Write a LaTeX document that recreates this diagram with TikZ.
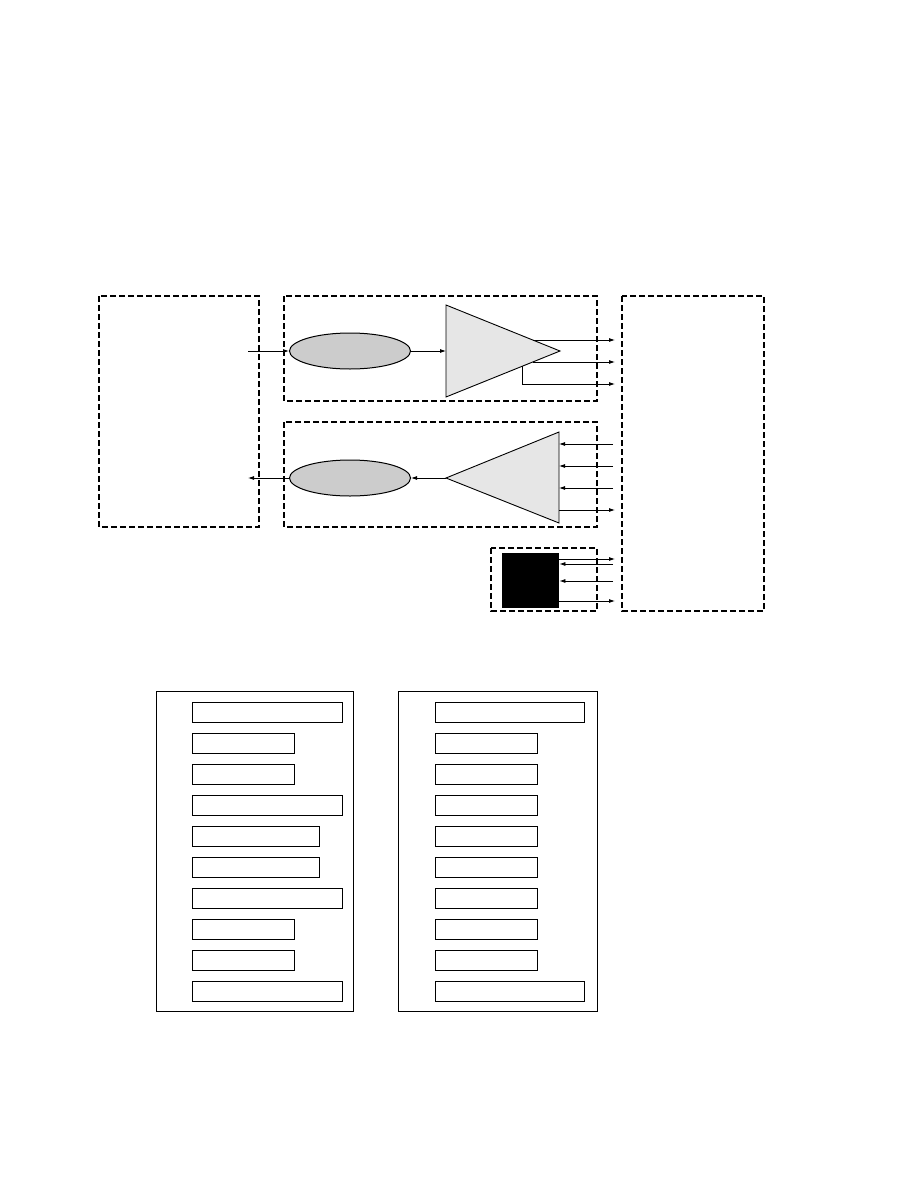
\documentclass[tikz,border=0pt]{standalone}
\usetikzlibrary{shapes.geometric,arrows.meta}
\definecolor{blob}{RGB}{204,204,204}
\definecolor{amp}{RGB}{230,230,230}
\newcommand{\drawdashed}{\draw[line width=1.6pt,dash pattern=on 6pt off 3pt]}
\newcommand{\slotrow}[3]{\draw[slot] (#1,#3) rectangle ++(#2,20);}
\tikzset{
  sig/.style={-{Latex[length=6pt,width=4pt]},line width=0.8pt},
  blobnode/.style={ellipse,draw,line width=1pt,fill=blob,minimum width=121pt,minimum height=36pt,inner sep=0pt},
  slot/.style={draw,line width=0.9pt}
}
\begin{document}
\begin{tikzpicture}[x=1pt,y=-1pt]
\useasboundingbox[fill=white] (0,0) rectangle (918,1188);
% dashed frames
\drawdashed (99,296) rectangle (259,527);
\drawdashed (284,296) rectangle (597,401);
\drawdashed (284,422) rectangle (597,527);
\drawdashed (622,296) rectangle (764,611);
\drawdashed (491,548) rectangle (597,611);
% upper chain
\node[blobnode] (encA) at (350,351) {};
\draw[fill=amp,line width=0.9pt] (446,305) coordinate (ampAtop) -- (446,397) coordinate (ampAbot) -- (560,351) coordinate (ampAtip) -- cycle;
\coordinate (ampAin) at (446,351);
\coordinate (inA) at (248,351);
\draw[sig] (inA) -- (encA.west);
\draw[sig] (encA.east) -- (ampAin);
\coordinate (oa1) at (533,340); \coordinate (ta1) at (615,340);
\coordinate (oa2) at (533,362); \coordinate (ta2) at (615,362);
\coordinate (oa3) at (522,366); \coordinate (ta3) at (615,384);
\draw[sig] (oa1) -- (ta1);
\draw[sig] (oa2) -- (ta2);
\draw[sig] (oa3) |- (ta3);
% lower chain
\node[blobnode] (encB) at (350,478) {};
\draw[fill=amp,line width=0.9pt] (446,478) coordinate (ampBtip) -- (559,432) coordinate (ampBtop) -- (559,523) coordinate (ampBbot) -- cycle;
\coordinate (outB) at (248,478);
\draw[sig] (encB.west) -- (outB);
\draw[sig] (ampBtip) -- (encB.east);
\foreach \y in {444,466,488}{
  \draw[sig] (613,\y) coordinate (rb\y) -- (559,\y);
}
\coordinate (ob4) at (559,510); \coordinate (tb4) at (615,510);
\draw[sig] (ob4) -- (tb4);
% control block
\node[fill=black,minimum width=57pt,minimum height=55pt,inner sep=0pt,anchor=north west] (ctl) at (502,553) {};
\coordinate (tc1) at (615,559); \coordinate (tc2) at (613,564);
\coordinate (tc3) at (613,581); \coordinate (tc4) at (615,601);
\draw[sig] (ctl.east |- tc1) -- (tc1);
\draw[sig] (tc2) -- (ctl.east |- tc2);
\draw[sig] (tc3) -- (ctl.east |- tc3);
\draw[sig] (ctl.east |- tc4) -- (tc4);
% register lists
\draw[line width=0.9pt] (156,691) rectangle (353,1011);
\draw[line width=0.9pt] (398,691) rectangle (597,1011);
\foreach \w [count=\i from 0] in {150,102,102,150,127,127,150,102,102,150}{
  \slotrow{192}{\w}{702+31*\i}
}
\foreach \w [count=\i from 0] in {149,102,102,102,102,102,102,102,102,149}{
  \slotrow{435}{\w}{702+31*\i}
}
\end{tikzpicture}
\end{document}
